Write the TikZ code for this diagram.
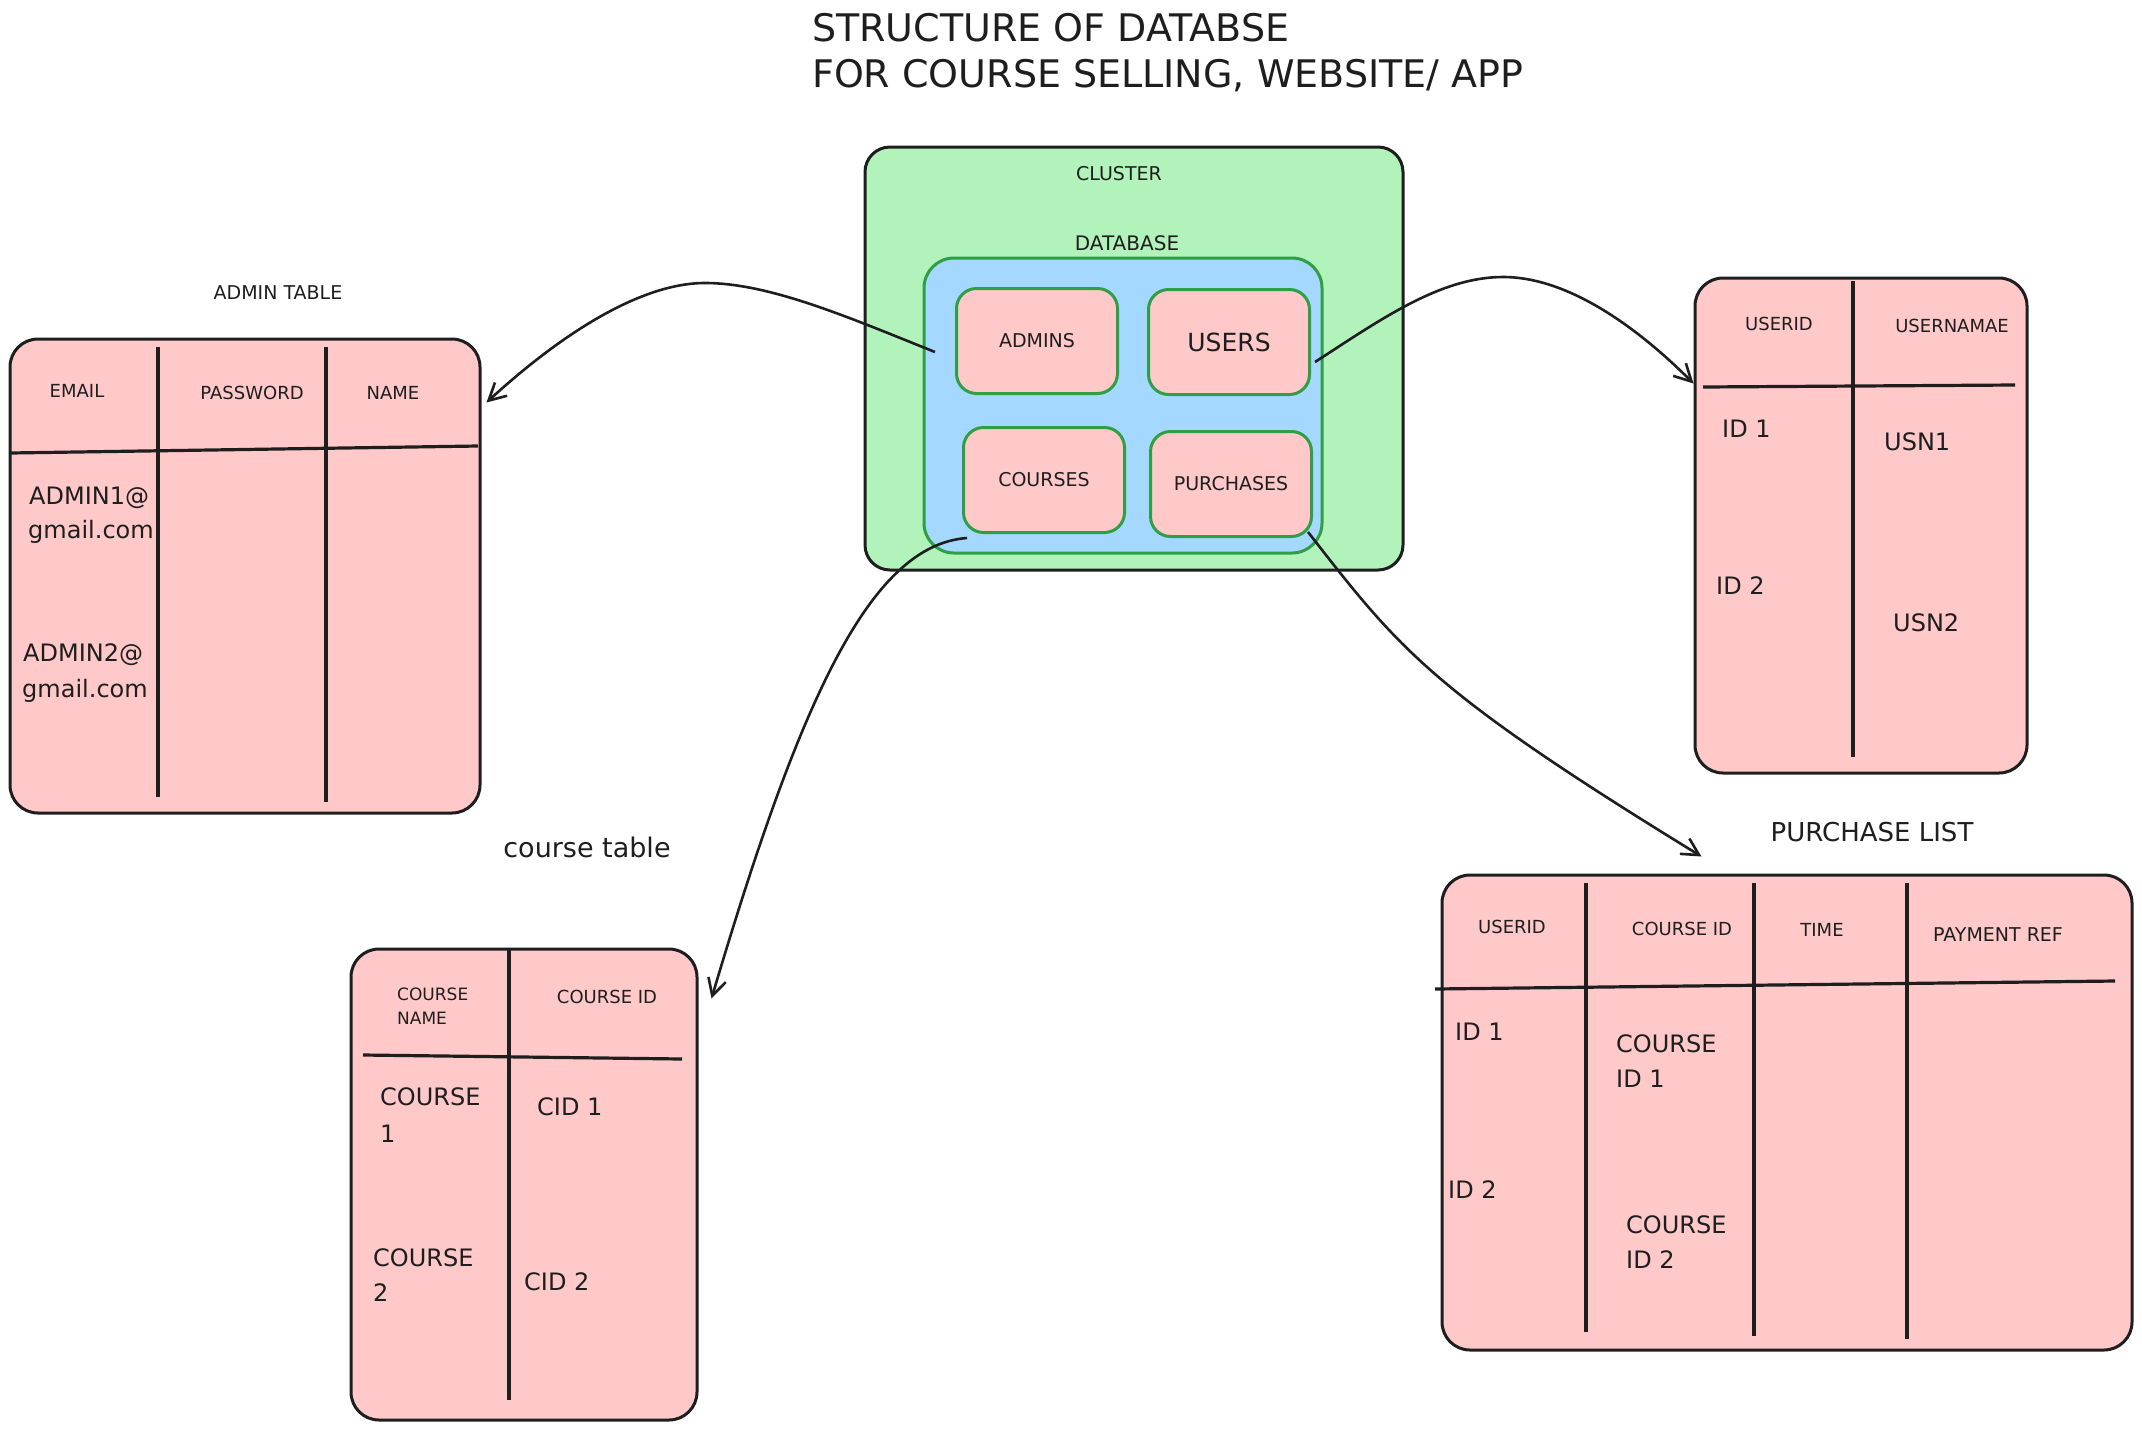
\documentclass[tikz,border=0pt]{standalone}
\usepackage{fontspec}
\setmainfont{DejaVu Sans}
\usetikzlibrary{arrows.meta,calc}

\definecolor{ink}{HTML}{1E1E1E}
\definecolor{clusterfill}{HTML}{B2F2BB}
\definecolor{dbfill}{HTML}{A5D8FF}
\definecolor{tblfill}{HTML}{FFC9C9}
\definecolor{leaf}{HTML}{2F9E44}

\newcommand{\fsz}[1]{\fontsize{#1}{#1}\selectfont}

\begin{document}
\begin{tikzpicture}[x=1pt, y=-1pt,
    box/.style={draw=ink, line width=3pt, fill=tblfill, rounded corners=28pt, inner sep=0pt},
    leafbox/.style={draw=leaf, line width=3pt, fill=tblfill, rounded corners=20pt, inner sep=0pt,
        minimum width=161pt, minimum height=105pt, text=ink, font=\fsz{19}},
    rule/.style={draw=ink, line width=3.2pt},
    lbl/.style={inner sep=0pt, anchor=base, text=ink},
    cell/.style={inner sep=0pt, anchor=base west, text=ink, font=\fsz{24}},
    conn/.style={draw=ink, line width=2.6pt, -{Straight Barb[length=17pt,width=18pt]}},
]

\useasboundingbox (0,0) rectangle (2142,1433);

% title
\node[lbl, anchor=base west, font=\fsz{38}] (title1) at (812,41) {STRUCTURE OF DATABSE};
\node[lbl, anchor=base west, font=\fsz{38}] (title2) at (812,87) {FOR COURSE SELLING, WEBSITE/ APP};

% cluster
\node[draw=ink, line width=3pt, fill=clusterfill, rounded corners=25pt,
    minimum width=538pt, minimum height=423pt] (cluster) at (1134,358.5) {};
\node[lbl, font=\fsz{19}] (clusterlbl) at (1119,180) {CLUSTER};
\node[lbl, font=\fsz{20}] (dblbl) at (1127,250) {DATABASE};

% database
\node[draw=leaf, line width=3pt, fill=dbfill, rounded corners=30pt,
    minimum width=398pt, minimum height=295pt] (db) at (1123,405.5) {};
\node[leafbox] (admins) at (1037,341) {ADMINS};
\node[leafbox, font=\fsz{25}] (users) at (1229,342) {USERS};
\node[leafbox] (courses) at (1044,480) {COURSES};
\node[leafbox] (purchases) at (1231,484) {PURCHASES};

% admin table
\node[lbl, font=\fsz{19}] (admintitle) at (278,299) {ADMIN TABLE};
\node[box, minimum width=470pt, minimum height=474pt] (admintbl) at (245,576) {};
\draw[rule] (10,453) -- (478,446);
\foreach \x/\b in {158/797, 326/802}
  \draw[rule] (\x,347) -- (\x,\b);
\node[lbl, font=\fsz{18}] (ah1) at (77,397.5) {EMAIL};
\node[lbl, font=\fsz{18}] (ah2) at (252,399.5) {PASSWORD};
\node[lbl, font=\fsz{18}] (ah3) at (393,399.5) {NAME};
\node[cell] (a1) at (29,504) {ADMIN1@};
\node[cell] (a1b) at (28,538) {gmail.com};
\node[cell] (a2) at (23,661) {ADMIN2@};
\node[cell] (a2b) at (22,697) {gmail.com};

% users table
\node[box, minimum width=332pt, minimum height=495pt] (userstbl) at (1861,525.5) {};
\draw[rule] (1703,387) -- (2015,385);
\draw[rule] (1853,281) -- (1853,757);
\node[lbl, font=\fsz{18}] (uh1) at (1779,330.5) {USERID};
\node[lbl, font=\fsz{18}] (uh2) at (1952,332.5) {USERNAMAE};
\node[cell] (u1) at (1722,437) {ID 1};
\node[cell] (u2) at (1884,450) {USN1};
\node[cell] (u3) at (1716,594) {ID 2};
\node[cell] (u4) at (1893,631) {USN2};

% course table
\node[lbl, font=\fsz{27}] (coursetitle) at (587,857) {course table};
\node[box, minimum width=346pt, minimum height=471pt] (coursetbl) at (524,1184.5) {};
\draw[rule] (363,1055) -- (682,1059);
\draw[rule] (509,950) -- (509,1400);
\node[lbl, anchor=base west, font=\fsz{17}] (ch1) at (397,1000) {COURSE};
\node[lbl, anchor=base west, font=\fsz{17}] (ch1b) at (397,1024) {NAME};
\node[lbl, font=\fsz{18}] (ch2) at (607,1003) {COURSE ID};
\node[cell] (c1) at (380,1105) {COURSE};
\node[cell] (c1b) at (380,1142) {1};
\node[cell] (c2) at (537,1115) {CID 1};
\node[cell] (c3) at (373,1266) {COURSE};
\node[cell] (c3b) at (373,1301) {2};
\node[cell] (c4) at (524,1290) {CID 2};

% purchase list
\node[lbl, font=\fsz{26}] (purchtitle) at (1872,841.5) {PURCHASE LIST};
\node[box, minimum width=690pt, minimum height=475pt] (purchtbl) at (1787,1112.5) {};
\draw[rule] (1435,989) -- (2115,981);
\foreach \x/\b in {1586/1332, 1754/1336, 1907/1339}
  \draw[rule] (\x,883) -- (\x,\b);
\node[lbl, font=\fsz{18}] (ph1) at (1512,933.5) {USERID};
\node[lbl, font=\fsz{18}] (ph2) at (1682,935.5) {COURSE ID};
\node[lbl, font=\fsz{18}] (ph3) at (1822,936.5) {TIME};
\node[lbl, font=\fsz{19}] (ph4) at (1998,941.5) {PAYMENT REF};
\node[cell] (p1) at (1455,1040) {ID 1};
\node[cell] (p2) at (1616,1052) {COURSE};
\node[cell] (p2b) at (1616,1087) {ID 1};
\node[cell] (p3) at (1448,1198) {ID 2};
\node[cell] (p4) at (1626,1233) {COURSE};
\node[cell] (p4b) at (1626,1268) {ID 2};

% links
\draw[conn] ($(admins.west)+(-20,11)$) .. controls (850,318) and (770,283) .. (705,283)
  .. controls (640,283) and (560,335) .. ($(admintbl.north east)+(5,65)$);
\draw[conn] ($(users.east)+(4,20)$) .. controls (1380,320) and (1440,277) .. (1503,277)
  .. controls (1570,277) and (1640,330) .. ($(userstbl.north west)+(0,107)$);
\draw[conn] ($(courses.south west)+(5,4)$) .. controls (870,545) and (800,700) ..
  ($(coursetbl.north east)+(13,51)$);
\draw[conn] ($(purchases.south east)+(-5,-6)$) .. controls (1400,650) and (1430,690) ..
  ($(purchtbl.north west)+(261,-17)$);
\end{tikzpicture}
\end{document}
